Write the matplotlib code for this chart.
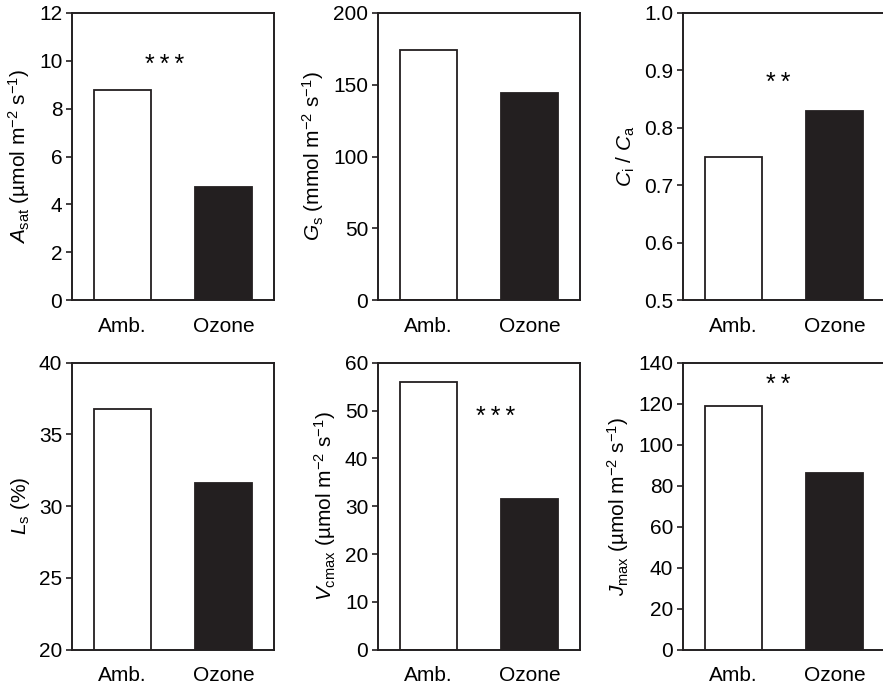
import matplotlib
matplotlib.use("Agg")
import matplotlib.pyplot as plt

plt.rcParams['font.family'] = ['Liberation Sans', 'DejaVu Sans']
plt.rcParams['mathtext.fontset'] = 'custom'
plt.rcParams['mathtext.rm'] = 'Liberation Sans'
plt.rcParams['mathtext.it'] = 'Liberation Sans:italic'

# Données
categories = ['Amb.', 'Ozone']
a_sat = [8.8, 4.72]
g_s = [174, 144]
ci_ca = [0.75, 0.83]
l_s = [36.8, 31.65]
v_cmax = [56.0, 31.5]
j_max = [119, 86]

ylabels = [
    r'$\mathit{A}_{\mathrm{sat}}$ (µmol m$^{-2}$ s$^{-1}$)',
    r'$\mathit{G}_{\mathrm{s}}$ (mmol m$^{-2}$ s$^{-1}$)',
    r'$\mathit{C}_{\mathrm{i}}$ / $\mathit{C}_{\mathrm{a}}$',
    r'$\mathit{L}_{\mathrm{s}}$ (%)',
    r'$\mathit{V}_{\mathrm{cmax}}$ (µmol m$^{-2}$ s$^{-1}$)',
    r'$\mathit{J}_{\mathrm{max}}$ (µmol m$^{-2}$ s$^{-1}$)',
]
yticks = [
    [0, 2, 4, 6, 8, 10, 12],
    [0, 50, 100, 150, 200],
    [0.5, 0.6, 0.7, 0.8, 0.9, 1.0],
    [20, 25, 30, 35, 40],
    [0, 10, 20, 30, 40, 50, 60],
    [0, 20, 40, 60, 80, 100, 120, 140],
]
# étoiles de significativité : (nb d'étoiles, x, y)
signif = [(3, 0.42, 9.55), None, (2, 0.44, 0.865),
          None, (3, 0.66, 47.2), (2, 0.44, 125.5)]

series = [a_sat, g_s, ci_ca, l_s, v_cmax, j_max]

W, H = 883, 688
fig = plt.figure(figsize=(W / 100, H / 100), dpi=100)

lefts = [72, 378, 683]
tops = [13, 362.7]
aw, ah = 202, 287
dark = '#231f20'

for k in range(6):
    r, c = divmod(k, 3)
    ax = fig.add_axes([lefts[c] / W, 1 - (tops[r] + ah) / H, aw / W, ah / H])
    vals = series[k]
    ax.bar([0, 1], vals, width=0.56, color=['white', dark],
           edgecolor=dark, linewidth=1.3, bottom=0)
    ax.set_xlim(-0.5, 1.5)
    ax.set_ylim(yticks[k][0], yticks[k][-1])
    ax.set_yticks(yticks[k])
    ax.set_xticks([0, 1])
    ax.set_xticklabels(categories)
    ax.tick_params(axis='x', length=0, pad=12, labelsize=15)
    ax.tick_params(axis='y', direction='out', length=4, width=1.2,
                   pad=3, labelsize=15, color=dark)
    for sp in ax.spines.values():
        sp.set_linewidth(1.4)
        sp.set_color(dark)
    ax.set_ylabel(ylabels[k], fontsize=15, labelpad=5)
    if signif[k] is not None:
        n, x, y = signif[k]
        ax.text(x, y, '\u2009'.join('*' * n), ha='center', va='baseline',
                fontsize=18, family=['Liberation Sans', 'DejaVu Sans'])

fig.savefig('out.png', dpi=100)
